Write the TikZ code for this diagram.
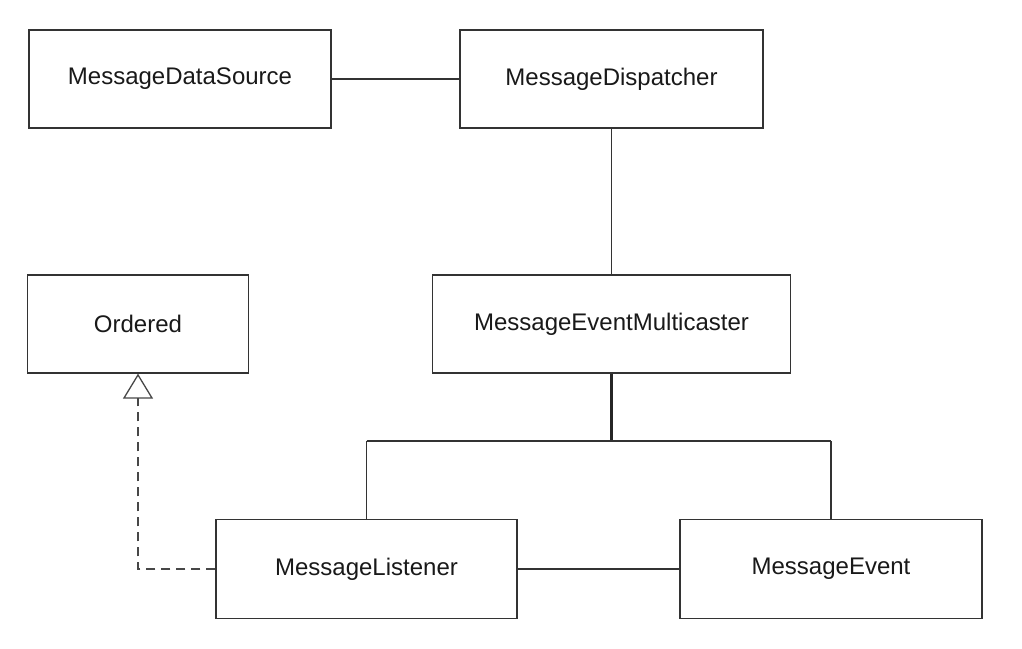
\documentclass[tikz,border=0pt]{standalone}
\usepackage{fontspec}
\setmainfont{Liberation Sans}
\usetikzlibrary{arrows.meta}
\definecolor{ln}{HTML}{333333}
\begin{document}
\begin{tikzpicture}[x=1pt,y=-1pt,
  cls/.style={draw=ln,line width=1.3pt,fill=white,inner sep=0pt,font=\fontsize{24}{28}\selectfont,text=black!90},
  conn/.style={draw=ln,line width=1.3pt},
  thickconn/.style={draw=black!85,line width=2.6pt},
  realize/.style={draw=ln!90,line width=1.3pt,dash pattern=on 9pt off 6pt,-{Triangle[open,length=25pt,width=30pt,line width=1.3pt]}}]
\useasboundingbox (0,0) rectangle (1022,648);
\node[cls,minimum width=302pt,minimum height=98pt] (ds) at (180,79) {MessageDataSource};
\node[cls,minimum width=303pt,minimum height=98pt] (disp) at (611.5,79) {MessageDispatcher};
\node[cls,minimum width=221pt,minimum height=98pt] (ord) at (138,324) {Ordered};
\node[cls,minimum width=358pt,minimum height=98pt] (mc) at (611.5,324) {MessageEventMulticaster};
\node[cls,minimum width=301pt,minimum height=99pt] (ml) at (366.5,569) {MessageListener};
\node[cls,minimum width=302pt,minimum height=99pt] (me) at (831,569) {MessageEvent};
\coordinate (j) at (611.5,441);
\coordinate (jl) at (366.5,441);
\coordinate (jr) at (831,441);
\draw[conn] (ds) -- (disp);
\draw[conn] (disp) -- (mc);
\draw[thickconn] (mc.south) -- (j);
\draw[conn] (jl) -- (jr);
\draw[conn] (jl) -- (ml.north);
\draw[conn] (jr) -- (me.north);
\draw[conn] (ml) -- (me);
\draw[realize] (ml.west) -| (ord.south);
\end{tikzpicture}
\end{document}
